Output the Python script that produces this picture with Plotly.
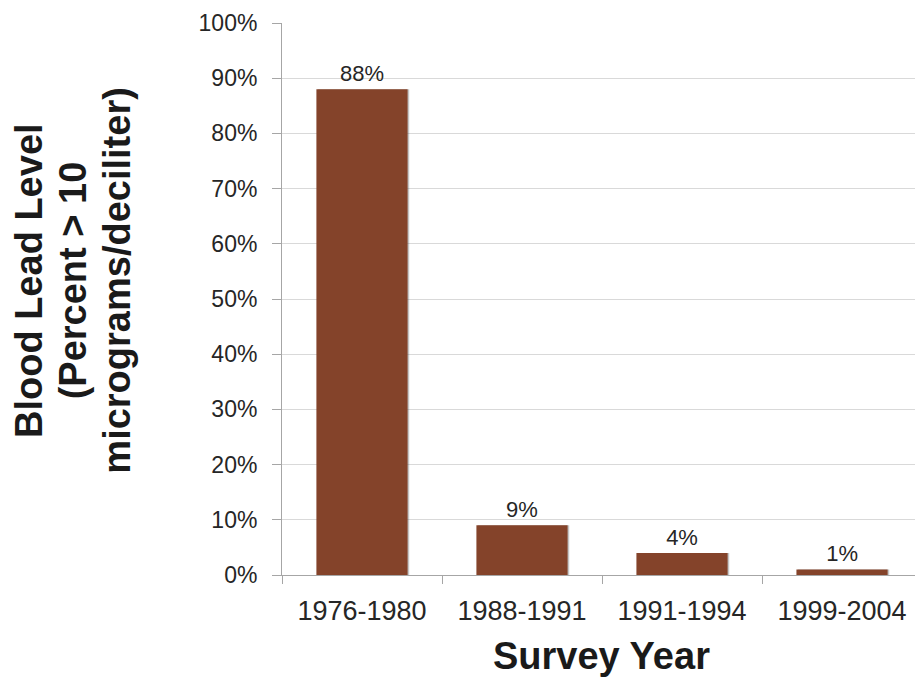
import plotly.graph_objects as go

# Survey periods and share of children above 10 µg/dL
survey_years = ["1976-1980", "1988-1991", "1991-1994", "1999-2004"]
percent_above = [88, 9, 4, 1]
y_ticks = [0, 10, 20, 30, 40, 50, 60, 70, 80, 90, 100]
y_tick_labels = [f"{v}%" for v in y_ticks]
y_title_lines = ["Blood Lead Level", "(Percent > 10", "micrograms/deciliter)"]

BAR_COLOR = "#84432A"
FONT = "Liberation Sans, Arial, sans-serif"

fig = go.Figure()

# soft drop shadow behind each bar
fig.add_trace(go.Bar(
    x=survey_years, y=percent_above, width=0.57, offset=-0.275,
    marker=dict(color="rgba(90,90,90,0.35)", line=dict(width=0)),
    hoverinfo="skip", showlegend=False,
))

fig.add_trace(go.Bar(
    x=survey_years, y=percent_above, width=0.57, offset=-0.285,
    marker=dict(color=BAR_COLOR, line=dict(width=0)),
    text=[f"{v}%" for v in percent_above],
    textposition="outside",
    textfont=dict(family=FONT, size=22, color="#262626"),
    cliponaxis=False,
    showlegend=False,
))

# three-line rotated y title, one annotation per line
y_title_x = [-0.400, -0.330, -0.260]
annotations = [
    dict(
        text=line, xref="paper", yref="paper",
        x=xp, y=0.534, xanchor="center", yanchor="middle",
        textangle=-90, showarrow=False,
        font=dict(family=FONT, size=38, color="#1A1A1A", weight="bold"),
    )
    for line, xp in zip(y_title_lines, y_title_x)
]
annotations.append(dict(
    text="Survey Year", xref="paper", yref="paper",
    x=0.505, y=-0.147, xanchor="center", yanchor="middle",
    showarrow=False,
    font=dict(family=FONT, size=38, color="#1A1A1A", weight="bold"),
))

fig.update_layout(
    width=915, height=679,
    margin=dict(l=282, r=0, t=23, b=104),
    paper_bgcolor="white", plot_bgcolor="white",
    barmode="overlay",
    font=dict(family=FONT, color="#262626"),
    xaxis=dict(
        type="category",
        range=[-0.5, 3.456],
        tickson="boundaries",
        ticks="outside", ticklen=8, tickcolor="#A6A6A6",
        ticklabelstandoff=12,
        showline=True, linecolor="#A6A6A6", linewidth=1,
        showgrid=False,
        tickfont=dict(family=FONT, size=27, color="#262626"),
    ),
    yaxis=dict(
        range=[0, 100],
        tickmode="array", tickvals=y_ticks, ticktext=y_tick_labels,
        ticks="outside", ticklen=9, tickcolor="#A6A6A6",
        ticklabelstandoff=10,
        showline=True, linecolor="#A6A6A6", linewidth=1,
        showgrid=True, gridcolor="#D9D9D9", gridwidth=1,
        zeroline=False,
        tickfont=dict(family=FONT, size=23, color="#262626"),
    ),
    annotations=annotations,
)

fig.write_html("out.html")
